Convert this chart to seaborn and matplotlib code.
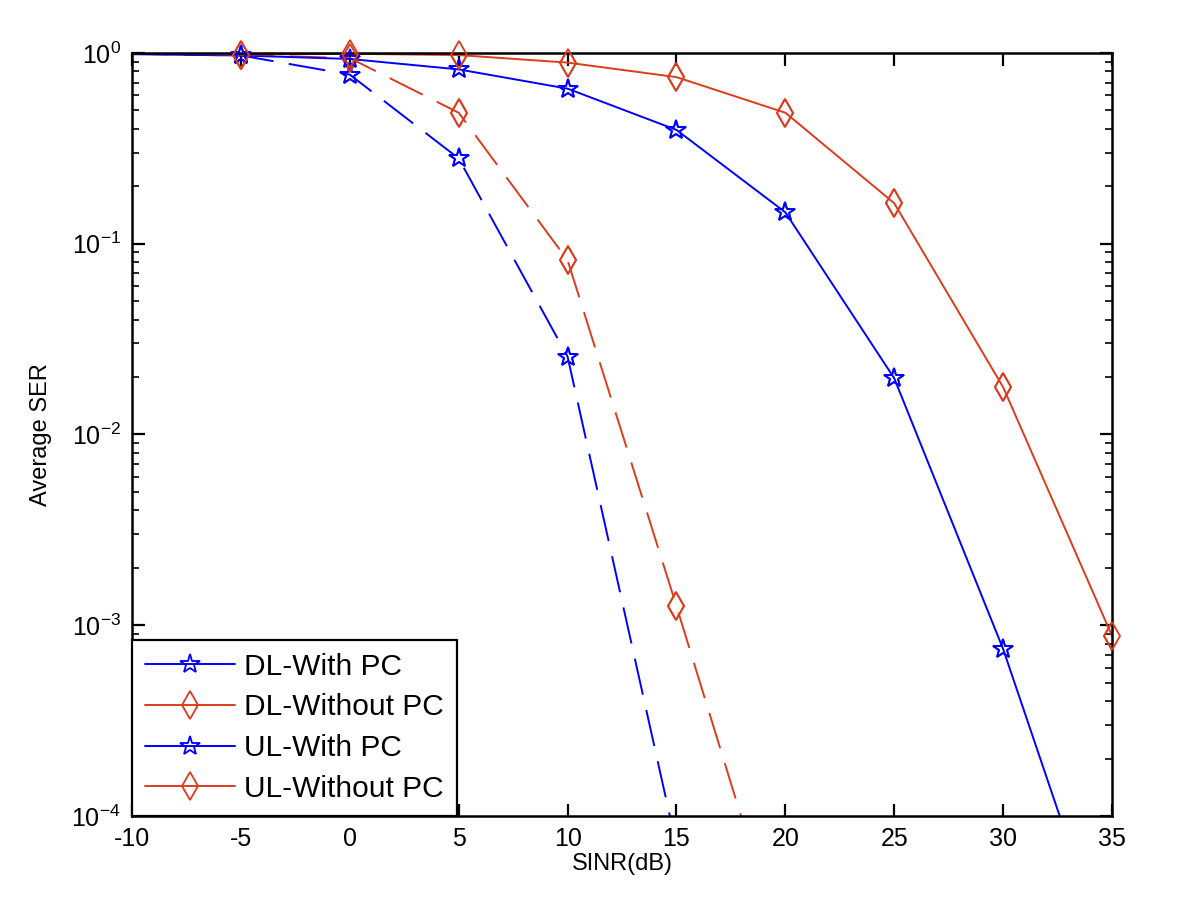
import numpy as np
import pandas as pd
import matplotlib
matplotlib.use("Agg")
import matplotlib.pyplot as plt
import seaborn as sns
from matplotlib.ticker import LogLocator, FixedLocator, NullFormatter
from matplotlib.lines import Line2D

# ---- data ----
sinr = [-10, -5, 0, 5, 10, 15, 20, 25, 30, 35]
dl_with_pc = [0.99, 0.97, 0.77, 0.28, 0.0256, 7.0e-5]
dl_without_pc = [0.995, 0.975, 0.94, 0.486, 0.082, 1.26e-3, 1.75e-5]
ul_with_pc = [0.985, 0.97, 0.93, 0.82, 0.65, 0.395, 0.146, 0.0197, 7.5e-4, 1.55e-5]
ul_without_pc = [1.0, 0.98, 0.99, 0.975, 0.89, 0.747, 0.486, 0.163, 0.0177, 8.8e-4]

labels = ["DL-With PC", "DL-Without PC", "UL-With PC", "UL-Without PC"]
xticks = [-10, -5, 0, 5, 10, 15, 20, 25, 30, 35]

BLUE = "#0000FF"
RED = "#DD3B1C"

sns.set_theme(style="white")
plt.rcParams["font.family"] = ["Liberation Sans", "DejaVu Sans"]
plt.rcParams["mathtext.fontset"] = "custom"
plt.rcParams["mathtext.rm"] = "Liberation Sans"
plt.rcParams["mathtext.it"] = "Liberation Sans"
plt.rcParams["text.color"] = "black"
plt.rcParams["axes.labelcolor"] = "black"

fig = plt.figure(figsize=(12, 9.21), dpi=100)
ax = fig.add_axes([0.110, 0.114, 0.8167, 0.8285])

DASH = (0, (19, 8))
series = [
    (dl_with_pc, labels[0], BLUE, "*", DASH),
    (dl_without_pc, labels[1], RED, "d", DASH),
    (ul_with_pc, labels[2], BLUE, "*", "-"),
    (ul_without_pc, labels[3], RED, "d", "-"),
]

def msize(m):
    return 15 if m == "*" else 14

ymin, ymax = 1e-4, 1.0
for vals, lab, col, mk, ls in series:
    df = pd.DataFrame({"x": sinr[:len(vals)], "y": vals})
    sns.lineplot(data=df, x="x", y="y", ax=ax, color=col, linestyle=ls,
                 linewidth=1.4, marker=mk, markersize=msize(mk),
                 markerfacecolor="none", markeredgecolor=col,
                 markeredgewidth=1.3, markevery=list(range(1, len(vals))),
                 label=lab, legend=False)
    # unclipped markers for the visible points (as in the reference)
    vis = df[(df["x"] > sinr[0]) & (df["y"] >= ymin)]
    ax.plot(vis["x"], vis["y"], linestyle="none", marker=mk, markersize=msize(mk),
            markerfacecolor="none", markeredgecolor=col, markeredgewidth=1.3,
            clip_on=False, zorder=5)

ax.set_yscale("log")
ax.set_xlim(sinr[0], sinr[-1])
ax.set_ylim(ymin, ymax)
ax.xaxis.set_major_locator(FixedLocator(xticks))
ax.set_xticklabels([str(t) for t in xticks])
ax.yaxis.set_major_locator(LogLocator(base=10, numticks=10))
ax.yaxis.set_minor_locator(LogLocator(base=10, subs=np.arange(2, 10), numticks=20))
ax.yaxis.set_minor_formatter(NullFormatter())

for sp in ax.spines.values():
    sp.set_visible(True)
    sp.set_color("black")
    sp.set_linewidth(1.8)

ax.tick_params(axis="both", which="major", direction="in", length=9, width=1.6,
               top=True, right=True, bottom=True, left=True,
               labelsize=18, colors="black", pad=8)
ax.tick_params(axis="y", which="minor", direction="in", length=5, width=1.4,
               left=True, right=True)
ax.grid(False)

ax.set_xlabel("SINR(dB)", fontsize=17, labelpad=1, color="black")
ax.set_ylabel("Average SER", fontsize=17, labelpad=14, color="black")

handles = [Line2D([], [], color=c, linestyle="-", linewidth=1.4, marker=m,
                  markersize=msize(m), markerfacecolor="none",
                  markeredgecolor=c, markeredgewidth=1.3)
           for _, _, c, m, _ in series]
leg = ax.legend(handles, labels, loc="lower left", fontsize=21.5,
                frameon=True, fancybox=False, framealpha=1,
                edgecolor="black", borderpad=0.45, handlelength=3.0,
                handletextpad=0.3, labelspacing=0.42, borderaxespad=0)
leg.get_frame().set_linewidth(1.6)
for t in leg.get_texts():
    t.set_color("black")

fig.savefig("out.png", dpi=100, facecolor="white")
